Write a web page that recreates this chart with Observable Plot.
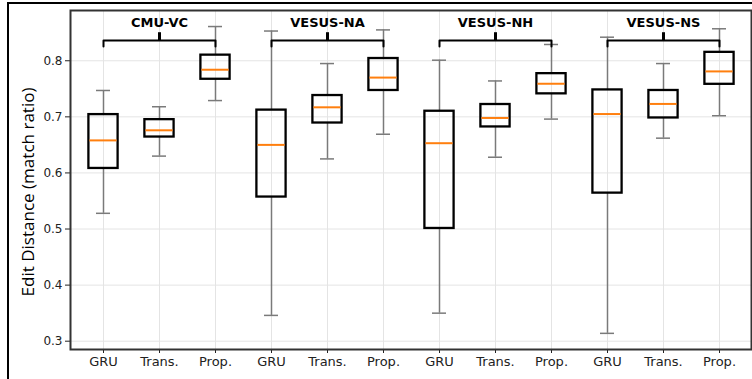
<!DOCTYPE html>
<html>
<head>
<meta charset="utf-8">
<script src="https://cdn.jsdelivr.net/npm/d3@7"></script>
<script src="https://cdn.jsdelivr.net/npm/@observablehq/plot@0.6"></script>
<style>
  html, body { margin: 0; padding: 0; background: white; }
  #wrap { position: relative; width: 752px; height: 379px; overflow: hidden; }
  #border { position: absolute; left: 7px; top: 2px; width: 760px; height: 400px;
            border-left: 2px solid black; border-top: 2px solid black; pointer-events: none; }
</style>
</head>
<body>
<div id="wrap"><div id="chart"></div><div id="border"></div></div>
<script>
// ---- data ----
const groups = ["CMU-VC", "VESUS-NA", "VESUS-NH", "VESUS-NS"];
const methods = ["GRU", "Trans.", "Prop."];
// order: for each group, GRU, Trans., Prop.
const whiskerLow  = [0.528, 0.630, 0.729, 0.346, 0.625, 0.669, 0.350, 0.628, 0.696, 0.314, 0.662, 0.702];
const q1          = [0.608, 0.664, 0.767, 0.557, 0.689, 0.747, 0.501, 0.682, 0.741, 0.564, 0.698, 0.758];
const median      = [0.658, 0.676, 0.784, 0.650, 0.717, 0.770, 0.653, 0.698, 0.759, 0.705, 0.723, 0.781];
const q3          = [0.704, 0.695, 0.810, 0.712, 0.738, 0.804, 0.710, 0.722, 0.777, 0.748, 0.747, 0.815];
const whiskerHigh = [0.747, 0.718, 0.861, 0.853, 0.795, 0.855, 0.801, 0.764, 0.829, 0.842, 0.795, 0.857];
const yTicks = [0.3, 0.4, 0.5, 0.6, 0.7, 0.8];
const yLabel = "Edit Distance (match ratio)";

// ---- layout constants ----
const braceY = 0.836, braceTipY = 0.8255, braceTopY = 0.850, groupLabelY = 0.868;

const keys = groups.flatMap(g => methods.map(m => g + "|" + m));
const boxes = keys.map((k, i) => ({
  key: k, group: groups[Math.floor(i / 3)], method: methods[i % 3],
  low: whiskerLow[i], q1: q1[i], median: median[i], q3: q3[i], high: whiskerHigh[i]
}));
const braceData = groups.flatMap(g => [
  {group: g, x: g + "|" + methods[0], y: braceTipY},
  {group: g, x: g + "|" + methods[0], y: braceY},
  {group: g, x: g + "|" + methods[2], y: braceY},
  {group: g, x: g + "|" + methods[2], y: braceTipY}
]);

const gridColor = "#e4e4e4";
const whiskerColor = "#7a7a7a";

const chart = Plot.plot({
  width: 752,
  height: 379,
  marginLeft: 70,
  marginTop: 10,
  marginRight: 1,
  marginBottom: 30,
  style: {fontFamily: "DejaVu Sans", fontSize: "12px", background: "transparent", color: "#222"},
  x: {domain: keys, padding: 0, tickSize: 4, tickPadding: 3, tickFormat: k => k.split("|")[1], label: null},
  y: {domain: [0.2852, 0.8896], ticks: yTicks, tickFormat: d3.format(".1f"), tickSize: 5, tickPadding: 3, label: null},
  marks: [
    Plot.ruleX(keys, {stroke: gridColor, strokeWidth: 1}),
    Plot.ruleY(yTicks, {stroke: gridColor, strokeWidth: 1}),
    Plot.ruleX(boxes, {x: "key", y1: "low", y2: "q1", stroke: whiskerColor, strokeWidth: 1.5}),
    Plot.ruleX(boxes, {x: "key", y1: "q3", y2: "high", stroke: whiskerColor, strokeWidth: 1.5}),
    Plot.tickY(boxes, {x: "key", y: "low", stroke: whiskerColor, strokeWidth: 1.5, insetLeft: 21, insetRight: 21}),
    Plot.tickY(boxes, {x: "key", y: "high", stroke: whiskerColor, strokeWidth: 1.5, insetLeft: 21, insetRight: 21}),
    Plot.barY(boxes, {x: "key", y1: "q1", y2: "q3", fill: "none", stroke: "black", strokeWidth: 2.3, insetLeft: 13.4, insetRight: 13.4}),
    Plot.tickY(boxes, {x: "key", y: "median", stroke: "#ff7f0e", strokeWidth: 2, insetLeft: 14.4, insetRight: 14.4}),
    Plot.line(braceData, {x: "x", y: "y", z: "group", stroke: "black", strokeWidth: 2, strokeLinejoin: "round", strokeLinecap: "round"}),
    Plot.ruleX(groups, {x: g => g + "|" + methods[1], y1: braceY, y2: braceTopY, stroke: "black", strokeWidth: 3}),
    Plot.text(groups, {x: g => g + "|" + methods[1], y: groupLabelY, text: d => d, fontWeight: "bold", fontSize: 13, fontFamily: "DejaVu Sans", fill: "black"}),
    Plot.text([yLabel], {frameAnchor: "left", textAnchor: "middle", dx: -42, dy: 12, rotate: -90, text: d => d, fontSize: 16, fontFamily: "Open Sans, sans-serif", fill: "black", className: "ylab"}),
    Plot.frame({stroke: "#333", strokeWidth: 2})
  ]
});
d3.select(chart).selectAll(".ylab text")
  .attr("textLength", 209).attr("lengthAdjust", "spacingAndGlyphs");
d3.select(chart).selectAll('g[aria-label^="x-axis"] text').attr("font-size", 13);
document.getElementById("chart").appendChild(chart);
</script>
</body>
</html>
